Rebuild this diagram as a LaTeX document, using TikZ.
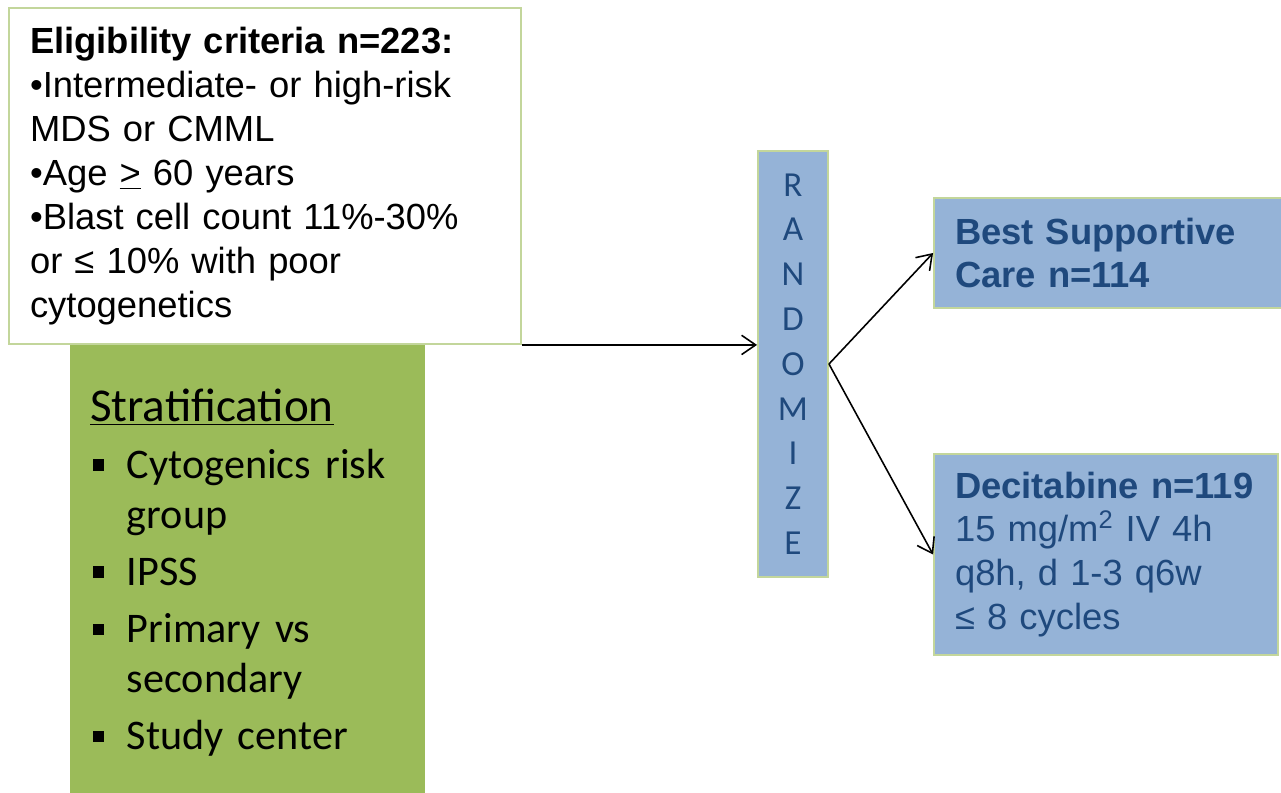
\documentclass[tikz,border=0pt]{standalone}
\usepackage{fontspec}
\setmainfont{Liberation Sans}
\newfontfamily\calibri{Carlito}
\usetikzlibrary{arrows.meta}
\definecolor{boxline}{HTML}{C3D69B}
\definecolor{stratgreen}{HTML}{9BBB59}
\definecolor{armblue}{HTML}{95B3D7}
\definecolor{armtext}{HTML}{1F497D}
\newcommand\sqbullet{\makebox[21pt][l]{\hspace{1.5pt}\raisebox{4.3pt}{\rule{6.6pt}{6.6pt}}}}

\begin{document}
\begin{tikzpicture}[x=0.02cm, y=-0.02cm, >={Straight Barb[length=8pt,width=11pt]},
  every node/.style={inner ysep=0pt, inner xsep=0.42cm},
  armbox/.style={draw=boxline, line width=1.1pt, fill=armblue, text=armtext, align=left,
    font=\fontsize{20.7}{25}\selectfont}]
  \useasboundingbox (0,0) rectangle (1281,793);

  \node[fill=stratgreen, minimum width=7.1cm, minimum height=10.12cm, inner xsep=0.4cm,
    text width=6.3cm, align=left, font=\calibri\fontsize{24}{28.3}\selectfont] (strat) at (247.5,573)
    {{\fontsize{26.8}{32}\selectfont\underline{Stratification}}\\[4pt]
     \sqbullet Cytogenics risk\\
     \hspace*{21pt}group\\[4.3pt]
     \sqbullet IPSS\\[4.3pt]
     \sqbullet Primary vs\\
     \hspace*{21pt}secondary\\[4.3pt]
     \sqbullet Study center};

  \node[draw=boxline, line width=1.1pt, fill=white, minimum width=10.24cm, minimum height=6.72cm,
    text width=9.4cm, align=left, font=\fontsize{20.7}{25}\selectfont] (elig) at (265,176)
    {\textbf{Eligibility criteria n=223:}\\
     •Intermediate- or high-risk\\
     MDS or CMML\\
     •Age \underline{>} 60 years\\
     •Blast cell count 11\%-30\%\\
     or ≤ 10\% with poor\\
     cytogenetics};

  \node[draw=boxline, line width=1.1pt, fill=armblue, text=armtext, minimum width=1.4cm,
    minimum height=8.52cm, inner xsep=0pt, align=center,
    font=\calibri\fontsize{20}{25.5}\selectfont] (rand) at (793,364)
    {R\\A\\N\\D\\O\\M\\I\\Z\\E};

  \node[armbox, minimum width=7.22cm, minimum height=2.2cm, text width=6.38cm,
    font=\bfseries\fontsize{20.7}{24.4}\selectfont] (bsc) at (1114.5,253)
    {Best Supportive\\Care n=114};

  \node[armbox, minimum width=6.88cm, minimum height=4.02cm, text width=6.04cm] (dec) at (1106,554.5)
    {\mbox{\textbf{Decitabine n=119}}\\
     15 mg/m\textsuperscript{2} IV 4h\\
     q8h, d 1-3 q6w\\
     ≤ 8 cycles};

  \draw[->, line width=0.9pt] (elig.south east) -- (elig.south east -| rand.west);
  \draw[->, line width=0.9pt] (rand.east) -- (bsc.west);
  \draw[->, line width=0.9pt] (rand.east) -- (dec.west);
\end{tikzpicture}
\end{document}
